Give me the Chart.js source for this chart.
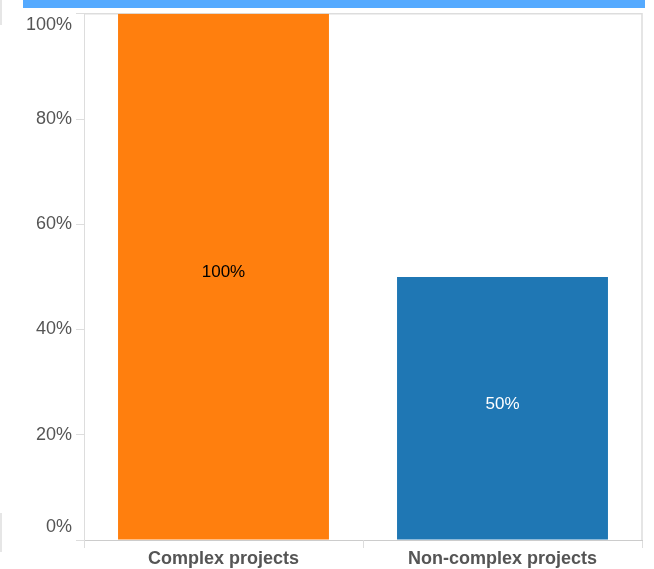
<!DOCTYPE html>
<html>
<head>
<meta charset="utf-8">
<script src="https://cdn.jsdelivr.net/npm/chart.js@4.4.1/dist/chart.umd.min.js"></script>
<style>
  html, body { margin: 0; padding: 0; background: #fff; }
  #wrap { position: relative; width: 654px; height: 569px; overflow: hidden; }
  #topbar { position: absolute; left: 23px; top: 0; width: 622px; height: 8px; background: #55aaff; }
  .edge { position: absolute; left: 0; width: 2px; background: #e6e6e6; }
  canvas { position: absolute; left: 0; top: 0; }
</style>
</head>
<body>
<div id="wrap">
  <canvas id="chart" width="654" height="569"></canvas>
  <div id="topbar"></div>
  <div class="edge" style="top:0;height:25px"></div>
  <div class="edge" style="top:513px;height:39px"></div>
</div>
<script>
const categories = ["Complex projects", "Non-complex projects"];
const shares = [100, 50];
const shareLabels = ["100%", "50%"];
const yTickValues = [0, 20, 40, 60, 80, 100];
const yTickLabels = ["0%", "20%", "40%", "60%", "80%", "100%"];

const barColors = ["#ff7f0e", "#1f77b4"];
const labelColors = ["#000000", "#ffffff"];
const axisGray = "#dddddd";
const textGray = "#555555";
const fontFamily = "'Liberation Sans', Arial, sans-serif";

// frame on top and right of the plot
const framePlugin = {
  id: "frame",
  beforeDatasetsDraw(chart) {
    const { ctx, chartArea: a } = chart;
    ctx.save();
    ctx.strokeStyle = axisGray;
    ctx.lineWidth = 1.5;
    ctx.beginPath();
    ctx.moveTo(a.left, a.top);
    ctx.lineTo(a.right, a.top);
    ctx.lineTo(a.right, a.bottom);
    ctx.stroke();
    ctx.restore();
  },
};

// y labels, kept inside the plot height at the ends
const yLabelPlugin = {
  id: "yLabels",
  afterDraw(chart) {
    const { ctx, chartArea: a } = chart;
    const scale = chart.scales.y;
    ctx.save();
    ctx.font = "18px " + fontFamily;
    ctx.fillStyle = textGray;
    ctx.textAlign = "right";
    ctx.textBaseline = "middle";
    yTickValues.forEach((v, i) => {
      let y = scale.getPixelForValue(v);
      y = Math.max(a.top + 11, Math.min(a.bottom - 13, y));
      ctx.fillText(yTickLabels[i], scale.right - 12, y);
    });
    ctx.restore();
  },
};

// value labels in the middle of each bar
const valueLabelPlugin = {
  id: "valueLabels",
  afterDatasetsDraw(chart) {
    const { ctx } = chart;
    const meta = chart.getDatasetMeta(0);
    ctx.save();
    ctx.font = "17px " + fontFamily;
    ctx.textAlign = "center";
    ctx.textBaseline = "middle";
    meta.data.forEach((bar, i) => {
      const mid = (bar.y + bar.base) / 2 - 4;
      ctx.fillStyle = labelColors[i];
      ctx.fillText(shareLabels[i], bar.x, mid);
    });
    ctx.restore();
  },
};

new Chart(document.getElementById("chart").getContext("2d"), {
  type: "bar",
  data: {
    labels: categories,
    datasets: [
      {
        data: shares,
        backgroundColor: barColors,
        borderWidth: 0,
        barPercentage: 0.756,
        categoryPercentage: 1,
      },
    ],
  },
  options: {
    responsive: false,
    animation: false,
    layout: { padding: { top: 13, right: 12, left: 0, bottom: 0 } },
    plugins: {
      legend: { display: false },
      tooltip: { enabled: false },
    },
    scales: {
      x: {
        grid: {
          display: true,
          offset: true,
          drawOnChartArea: false,
          tickLength: 8,
          color: axisGray,
        },
        border: { display: true, color: "#cccccc", dash: [2, 1] },
        ticks: {
          color: textGray,
          padding: 0,
          font: { family: fontFamily, size: 18, weight: "bold" },
        },
        afterFit(scale) {
          scale.height = 29;
        },
      },
      y: {
        min: 0,
        max: 100,
        afterBuildTicks(scale) {
          scale.ticks = yTickValues.map((v) => ({ value: v }));
        },
        grid: {
          display: true,
          drawOnChartArea: false,
          tickLength: 8,
          color: axisGray,
        },
        border: { display: true, color: axisGray },
        ticks: {
          color: "rgba(0,0,0,0)",
          font: { family: fontFamily, size: 18 },
        },
        afterFit(scale) {
          scale.width = 84;
        },
      },
    },
  },
  plugins: [framePlugin, yLabelPlugin, valueLabelPlugin],
});
</script>
</body>
</html>
